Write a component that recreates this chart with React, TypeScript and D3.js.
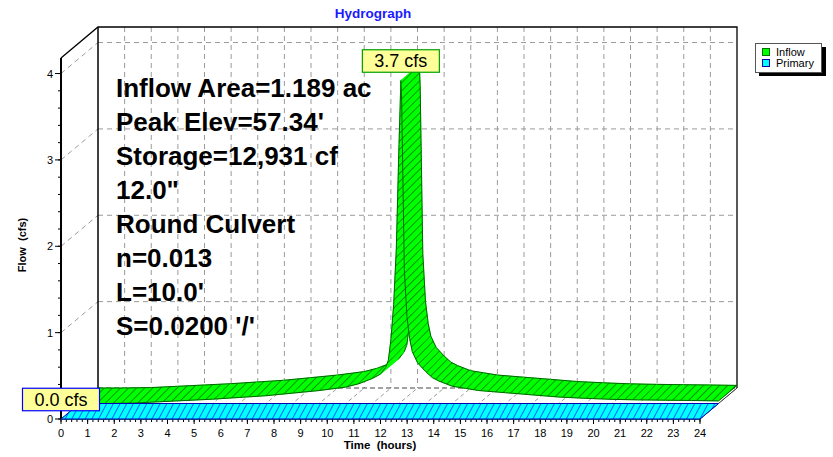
import React from 'react';
import * as d3 from 'd3';

// hydrograph values
const hourTicks = d3.range(0, 25);
const flowTicks = [0, 1, 2, 3, 4];

const inflowHours = [0, 1, 2, 3, 4, 5, 6, 7, 8, 9, 10, 10.5, 11, 11.3, 11.5, 11.6, 11.7, 11.8, 11.9, 12.0, 12.07, 12.1, 12.2, 12.3, 12.4, 12.5, 12.7, 13.0, 13.25, 13.5, 14.0, 14.5, 15, 16, 17, 18, 19, 20, 21, 22, 23, 24];
const inflowCfs = [0, 0, 0.005, 0.02, 0.035, 0.05, 0.07, 0.09, 0.12, 0.15, 0.19, 0.23, 0.29, 0.34, 0.42, 0.5, 0.75, 1.15, 1.8, 3.0, 3.74, 3.5, 1.55, 1.0, 0.75, 0.6, 0.47, 0.37, 0.3, 0.26, 0.2, 0.175, 0.15, 0.125, 0.1, 0.075, 0.06, 0.048, 0.042, 0.038, 0.035, 0.03];

const primaryHours = [0, 24];
const primaryCfs = [0, 0];

const notes = [
  'Inflow Area=1.189 ac',
  "Peak Elev=57.34'",
  'Storage=12,931 cf',
  '12.0"',
  'Round Culvert',
  'n=0.013',
  "L=10.0'",
  "S=0.0200 '/'",
];

const W = 833;
const H = 457;
const DX = 37; // depth offset of the 3D box
const DY = -31;
const FONT = "'Liberation Sans', Arial, sans-serif";

export default function App() {
  const x = d3.scaleLinear().domain([0, 24]).range([61, 700]);
  const y = d3.scaleLinear().domain([0, 4.18]).range([419, 58]);
  const line = d3.line();

  const proj = (t: number, v: number, z: number): [number, number] => [x(t) + z * DX, y(v) + z * DY];

  // draws a series as a flat 3D ribbon, one quad per segment
  const ribbon = (ts: number[], vs: number[], z0: number, z1: number, fill: string, hatch: string, edge: string) => {
    const parts = [];
    for (let i = 0; i < ts.length - 1; i++) {
      const a0 = proj(ts[i], vs[i], z0);
      const b0 = proj(ts[i + 1], vs[i + 1], z0);
      const b1 = proj(ts[i + 1], vs[i + 1], z1);
      const a1 = proj(ts[i], vs[i], z1);
      const d = line([a0, b0, b1, a1]) + 'Z';
      parts.push(
        <g key={i}>
          <path d={d} fill={fill} stroke={fill} strokeWidth={0.6} />
          <path d={d} fill={`url(#${hatch})`} />
          <path d={line([a0, b0]) || ''} stroke={edge} fill="none" />
          <path d={line([a1, b1]) || ''} stroke={edge} fill="none" />
        </g>
      );
    }
    const n = ts.length - 1;
    parts.push(<path key="s" d={line([proj(ts[0], vs[0], z0), proj(ts[0], vs[0], z1)]) || ''} stroke={edge} />);
    parts.push(<path key="e" d={line([proj(ts[n], vs[n], z0), proj(ts[n], vs[n], z1)]) || ''} stroke={edge} />);
    return parts;
  };

  const backL = x(0) + DX;
  const backR = x(24) + DX;
  const backT = y.range()[1] + DY;
  const backB = y(0) + DY;

  const minorX = d3.range(0, 24.01, 0.2);
  const minorY = d3.range(0, 4.01, 0.2);

  const peakI = d3.maxIndex(inflowCfs);
  const labels = [
    { text: '3.7 cfs', cx: proj(inflowHours[peakI], inflowCfs[peakI], 0.5)[0], by: y(inflowCfs[peakI]) + 0.75 * DY - 0.5, border: '#00a000' },
    { text: '0.0 cfs', cx: proj(primaryHours[0], primaryCfs[0], 0)[0], by: y(primaryCfs[0]) + 0.25 * DY - 0.5, border: '#0000ff' },
  ];

  return (
    <svg width={W} height={H} style={{ position: 'absolute', left: 0, top: 0, background: '#fff' }} fontFamily={FONT}>
      <defs>
        <pattern id="hatchG" patternUnits="userSpaceOnUse" width={5.7} height={5.7} patternTransform="rotate(45)">
          <line x1={0} y1={0} x2={0} y2={5.7} stroke="#005a00" strokeWidth={1.25} />
        </pattern>
        <pattern id="hatchB" patternUnits="userSpaceOnUse" width={5.9} height={5.9} patternTransform="rotate(28)">
          <line x1={0} y1={0} x2={0} y2={5.9} stroke="#0000ff" strokeWidth={1.2} />
        </pattern>
      </defs>

      <text x={373} y={18} textAnchor="middle" fontSize={13.5} fontWeight="bold" fill="#1a1aff">Hydrograph</text>

      {/* back wall grid */}
      {hourTicks.slice(1, -1).map(h => (
        <line key={'gv' + h} x1={x(h) + DX} x2={x(h) + DX} y1={backT} y2={backB} stroke="#9a9a9a" strokeDasharray="5,4" />
      ))}
      {flowTicks.slice(1).map(v => (
        <line key={'gh' + v} x1={backL} x2={backR} y1={y(v) + DY} y2={y(v) + DY} stroke="#9a9a9a" strokeDasharray="5,4" />
      ))}
      <line x1={backL} x2={backR} y1={backB} y2={backB} stroke="#444" strokeDasharray="5,3" />
      {/* left wall */}
      {flowTicks.slice(1).map(v => (
        <line key={'gl' + v} x1={x(0)} x2={backL} y1={y(v)} y2={y(v) + DY} stroke="#9a9a9a" strokeDasharray="5,4" />
      ))}
      {/* floor */}
      {hourTicks.map(h => (
        <line key={'gf' + h} x1={x(h)} x2={x(h) + DX} y1={y(0)} y2={backB} stroke="#9a9a9a" strokeDasharray="4,3" />
      ))}
      <line x1={x(24)} x2={backR} y1={y(0)} y2={backB} stroke="#333" />
      <path d={line([[x(0), y.range()[1]], [backL, backT], [backR, backT], [backR, backB]]) || ''} fill="none" stroke="#000" strokeWidth={1.3} />
      <line x1={backL} x2={backL} y1={backT} y2={backB} stroke="#000" strokeWidth={1.5} />

      {/* notes */}
      {notes.map((s, i) => (
        <text key={s} x={116} y={97 + i * 34} fontSize={26} fontWeight="bold" fill="#000">{s}</text>
      ))}

      {/* axes */}
      <line x1={x(0)} x2={x(24)} y1={y(0)} y2={y(0)} stroke="#000" strokeWidth={1.5} />
      <line x1={x(0)} x2={x(0)} y1={y.range()[1]} y2={y(0)} stroke="#000" strokeWidth={2} />
      {minorY.map(v => (
        <line key={'ty' + v} x1={x(0) - 3} x2={x(0)} y1={y(v)} y2={y(v)} stroke="#000" />
      ))}
      {flowTicks.map(v => (
        <g key={'yl' + v}>
          <line x1={x(0) - 6} x2={x(0)} y1={y(v)} y2={y(v)} stroke="#000" />
          <text x={x(0) - 8} y={y(v) + 4} textAnchor="end" fontSize={11}>{v}</text>
        </g>
      ))}
      {minorX.map(h => (
        <line key={'tx' + h} x1={x(h)} x2={x(h)} y1={y(0)} y2={y(0) + 3} stroke="#000" />
      ))}
      {hourTicks.map(h => (
        <g key={'xl' + h}>
          <line x1={x(h)} x2={x(h)} y1={y(0)} y2={y(0) + 5} stroke="#000" />
          <text x={x(h)} y={437} textAnchor="middle" fontSize={11}>{h}</text>
        </g>
      ))}
      <text x={380} y={449} textAnchor="middle" fontSize={11.5} fontWeight="bold" style={{ whiteSpace: 'pre' }}>Time  (hours)</text>
      <text transform="translate(26,245) rotate(-90)" textAnchor="middle" fontSize={11} fontWeight="bold" style={{ whiteSpace: 'pre' }}>Flow  (cfs)</text>

      {/* series: inflow behind, primary in front */}
      {ribbon(inflowHours, inflowCfs, 0.5, 1, '#00ff00', 'hatchG', '#006400')}
      {ribbon(primaryHours, primaryCfs, 0, 0.5, '#00ffff', 'hatchB', '#0000b0')}

      {/* peak labels */}
      {labels.map(l => (
        <g key={l.text}>
          <rect x={l.cx - 38.5} y={l.by - 22.5} width={77} height={22.5} fill="#ffff99" stroke={l.border} strokeWidth={1.2} />
          <text x={l.cx} y={l.by - 5} textAnchor="middle" fontSize={18} fill="#000">{l.text}</text>
        </g>
      ))}

      {/* legend */}
      <rect x={759} y={47} width={67} height={29} fill="#000" />
      <rect x={755.5} y={43.5} width={66} height={29} fill="#fff" stroke="#555" />
      <rect x={762.5} y={48.5} width={7} height={7} fill="#00ff00" stroke="#007000" />
      <text x={776} y={56} fontSize={11}>Inflow</text>
      <rect x={762.5} y={59.5} width={7} height={7} fill="#00ffff" stroke="#0000b0" />
      <text x={776} y={67} fontSize={11}>Primary</text>
    </svg>
  );
}
